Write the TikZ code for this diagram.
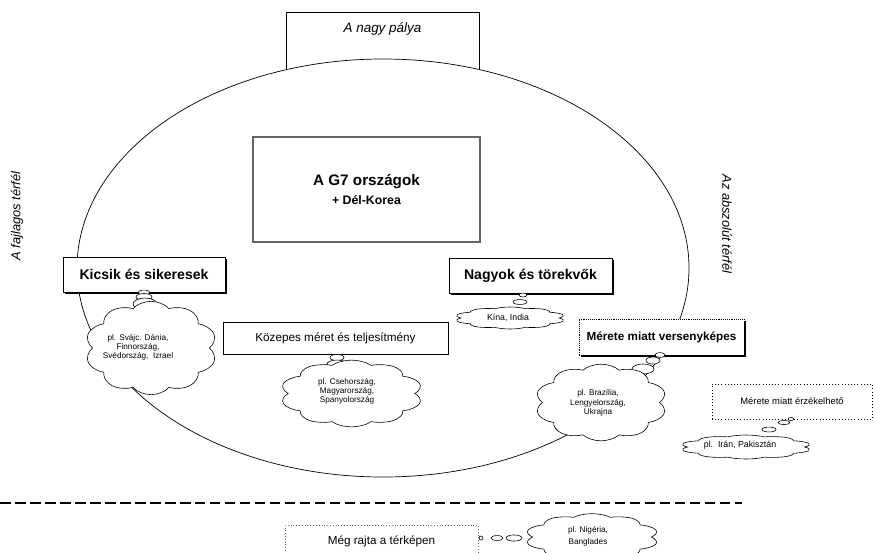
\documentclass[tikz,border=0pt]{standalone}
\usepackage{fontspec}
\setmainfont{Liberation Sans}
\usetikzlibrary{shapes.symbols,shadows}
\tikzset{
  plainbox/.style={draw, fill=white, line width=0.6pt, inner sep=0pt},
  shadowbox/.style={plainbox, drop shadow={shadow xshift=1.4pt, shadow yshift=-1.4pt, fill=black, opacity=1}},
  dotbox/.style={draw, fill=white, dotted, line width=0.7pt, inner sep=0pt},
  thought/.style={cloud, cloud puffs=10, cloud puff arc=120, aspect=1, draw, fill=white, line width=0.5pt, inner sep=0pt, minimum size=1cm, transform shape},
  cloudtext/.style={align=center, inner sep=0pt, font=\fontsize{7}{7.8}\selectfont},
  bubble/.style={draw, fill=white, line width=0.5pt},
}
% a cloud stretched to #4 x #5 cm round (#2,#3)
\newcommand{\felho}[5]{\begin{scope}[shift={(#2,#3)}, xscale=#4, yscale=#5]\node[thought] (#1) {};\end{scope}}
\begin{document}
\begin{tikzpicture}[x=0.03cm, y=-0.03cm]
\useasboundingbox (0,0) rectangle (874,552);
% the big field:
\node[plainbox, anchor=north, minimum width=5.79cm, inner ysep=9pt, text height=8.5pt, text depth=35pt, font=\itshape\fontsize{11.5}{14}\selectfont] (nagy) at (382.5,12) {A nagy pálya};
\coordinate (kozep) at (383,268);
\draw[line width=0.6pt, fill=white] (kozep) ellipse [x radius=306, y radius=209];
\node[rotate=90, font=\itshape\fontsize{11}{13}\selectfont] (fajlagos) at (17,216) {A fajlagos térfél};
\node[rotate=-90, font=\itshape\fontsize{11}{13}\selectfont] (abszolut) at (727,224) {Az abszolút térfél};
% boxes:
\node[plainbox, double=black!60, double distance=1pt, line width=0.6pt, minimum width=6.81cm, minimum height=3.15cm, align=center, font=\bfseries\fontsize{13}{17}\selectfont] (g7) at (366.5,189.5) {A G7 országok\\ {\fontsize{10.5}{12.6}\selectfont + Dél-Korea}};
\node[shadowbox, minimum width=4.86cm, minimum height=1.05cm, font=\bfseries\fontsize{12}{14}\selectfont] (kicsik) at (144,274.5) {Kicsik és sikeresek};
\node[plainbox, minimum width=6.75cm, minimum height=0.96cm, font=\fontsize{10}{12}\selectfont] (kozepes) at (335.5,338) {Közepes méret és teljesítmény};
\node[shadowbox, minimum width=4.89cm, minimum height=1.05cm, font=\bfseries\fontsize{12}{14}\selectfont] (nagyok) at (530.5,275.5) {Nagyok és törekvők};
\node[shadowbox, densely dotted, minimum width=4.95cm, minimum height=1.08cm, font=\bfseries\fontsize{10}{12}\selectfont] (verseny) at (661.5,337) {Mérete miatt versenyképes};
\node[dotbox, minimum width=4.8cm, minimum height=1.05cm, font=\fontsize{8}{10}\selectfont] (erzek) at (792,401.5) {Mérete miatt érzékelhető};
\node[dotbox, line width=0.4pt, draw=black!60, anchor=north, minimum width=5.79cm, inner ysep=8.8pt, text height=7.5pt, text depth=13pt, font=\fontsize{10}{12}\selectfont] (terkep) at (381.5,525) {Még rajta a térképen};
% dividing line:
\coordinate (vonalbal) at (0,503);
\coordinate (vonaljobb) at (742,503);
\draw[line width=1.8pt, dash pattern=on 9pt off 3.8pt] (vonalbal) -- (vonaljobb);
% bubbles:
\draw[bubble] (144,292.5) ellipse [x radius=5.1pt, y radius=2.1pt];
\draw[bubble] (144,297) ellipse [x radius=6.8pt, y radius=3pt];
\draw[bubble] (145,304) ellipse [x radius=10.2pt, y radius=5.1pt];
\draw[bubble] (337,357.5) ellipse [x radius=6pt, y radius=2.6pt];
\draw[bubble] (337,364) ellipse [x radius=8.5pt, y radius=3.4pt];
\draw[bubble] (523,295) ellipse [x radius=3.4pt, y radius=1.7pt];
\draw[bubble] (520,302) ellipse [x radius=6pt, y radius=2.1pt];
\draw[bubble] (660,355) ellipse [x radius=4.3pt, y radius=2.1pt];
\draw[bubble] (653,360.5) ellipse [x radius=6pt, y radius=3pt];
\draw[bubble] (643,369) ellipse [x radius=9.4pt, y radius=4.3pt];
\draw[bubble] (791,419) ellipse [x radius=2.6pt, y radius=1.3pt];
\draw[bubble] (784,422.5) ellipse [x radius=5.1pt, y radius=1.7pt];
\draw[bubble] (769,429.5) ellipse [x radius=6pt, y radius=2.1pt];
\draw[bubble] (481,538) ellipse [x radius=1.7pt, y radius=1.7pt];
\draw[bubble] (497,538) ellipse [x radius=5.1pt, y radius=2.1pt];
\draw[bubble] (514,538) ellipse [x radius=6.8pt, y radius=2.6pt];
% clouds:
\felho{pelda1}{151}{348}{3.96}{2.8}
\felho{pelda2}{351.5}{393.5}{4.29}{2.0}
\felho{pelda3}{510}{318}{3.33}{0.66}
\felho{pelda4}{601}{402.5}{3.96}{2.3}
\felho{pelda5}{746}{447}{3.96}{0.72}
\felho{pelda6}{592}{537}{4.02}{1.4}
\node[cloudtext] (szoveg1) at (138,347) {pl. Svájc. Dánia,\\ Finnország,\\ Svédország,\ \ Izrael};
\node[cloudtext] (szoveg2) at (347,391) {pl. Csehország,\\ Magyarország,\\ Spanyolország};
\node[cloudtext, font=\fontsize{7.5}{9}\selectfont] (szoveg3) at (508,318) {Kína, India};
\node[cloudtext, font=\fontsize{7}{8}\selectfont] (szoveg4) at (598,403) {pl. Brazília,\\ Lengyelország,\\ Ukrajna};
\node[cloudtext, font=\fontsize{7.5}{9}\selectfont] (szoveg5) at (740,445) {pl.\ \ Irán, Pakisztán};
\node[cloudtext, font=\fontsize{7}{10}\selectfont] (szoveg6) at (588,536) {pl. Nigéria,\\ Banglades};
\end{tikzpicture}
\end{document}
